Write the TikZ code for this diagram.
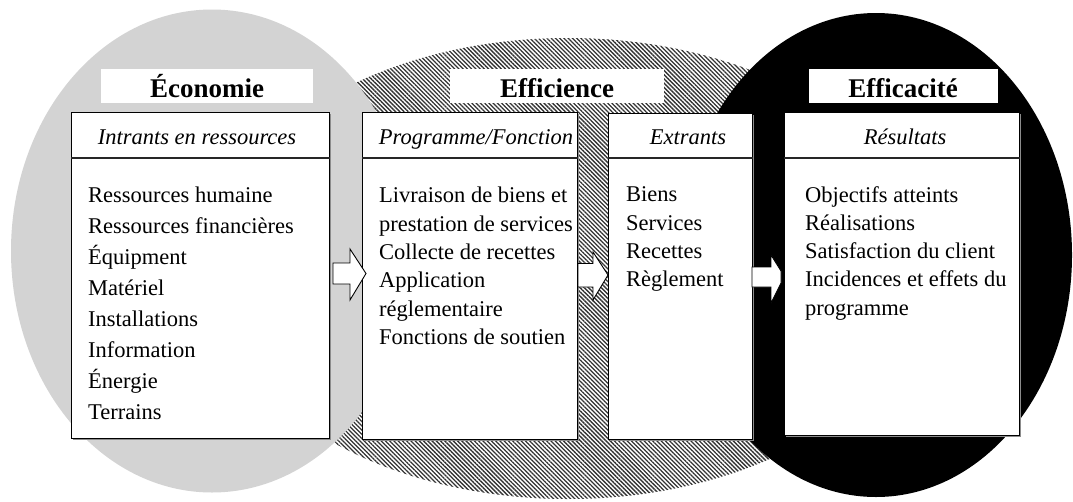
\documentclass[tikz,border=0pt]{standalone}
\usepackage{fontspec}
\setmainfont{Liberation Serif}
\usetikzlibrary{patterns.meta}
\definecolor{ellgray}{RGB}{211,211,211}
\tikzset{
  databox/.style={draw=black, line width=1.2pt, fill=white, anchor=north west, inner sep=0pt},
  boxshadow/.style={fill=black!45},
  headrule/.style={draw=black!85, line width=1.3pt},
  titlebox/.style={fill=white, inner sep=0pt, anchor=base, text height=28pt, text depth=6pt,
                   font=\fontsize{27}{32}\selectfont\bfseries},
  blockarrow/.style={draw=black, line width=0.9pt, fill=white, line join=miter},
  headtxt/.style={anchor=base, inner sep=0pt, font=\fontsize{22.5}{27}\selectfont\itshape},
  bodywide/.style={anchor=north west, inner sep=0pt, align=left, font=\fontsize{22.5}{31}\selectfont},
  bodytxt/.style={anchor=north west, inner sep=0pt, align=left, font=\fontsize{22.5}{28.3}\selectfont},
  hatchfill/.style={pattern={Lines[angle=-45,distance=3pt,line width=1.3pt]}, pattern color=black!80}
}
\begin{document}
\begin{tikzpicture}[x=1pt,y=-1pt]
\useasboundingbox (0,0) rectangle (1073,501);
% ellipses
\fill[white] (568,268.5) ellipse [x radius=358, y radius=230.5];
\fill[hatchfill] (568,268.5) ellipse [x radius=358, y radius=230.5];
\fill[ellgray] (212,251) ellipse [x radius=201, y radius=241.5];
\fill[black] (876,255) ellipse [x radius=196, y radius=242];
% shadows
\fill[boxshadow] (73,114) rectangle (331,440);
\fill[boxshadow] (364,114) rectangle (579,441);
\fill[boxshadow] (610,115) rectangle (754,441);
\fill[boxshadow] (786,114) rectangle (1021,437);
% boxes
\node[databox, minimum width=258pt, minimum height=326pt] (b1) at (71,112) {};
\node[databox, minimum width=215pt, minimum height=327pt] (b2) at (362,112) {};
\node[databox, minimum width=144pt, minimum height=326pt] (b3) at (608,113) {};
\node[databox, minimum width=235pt, minimum height=323pt] (b4) at (784,112) {};
\draw[headrule] (b1.north west |- 0,158) -- (b1.north east |- 0,158);
\draw[headrule] (b2.north west |- 0,158) -- (b2.north east |- 0,158);
\draw[headrule] (b3.north west |- 0,158) -- (b3.north east |- 0,158);
\draw[headrule] (b4.north west |- 0,158) -- (b4.north east |- 0,158);
% block arrows
\draw[blockarrow] (333,263) -- (350,263) -- (350,249) -- (366,273.5) -- (350,300) -- (350,284) -- (333,284) -- cycle;
\draw[blockarrow] (578,263.5) -- (593,263.5) -- (593,252) -- (608,275) -- (593,300) -- (593,287) -- (578,287) -- cycle;
\draw[blockarrow] (752,267) -- (771,267) -- (771,255) -- (781,271) -- (781,283) -- (771,303) -- (771,287) -- (752,287) -- cycle;
% titles
\node[titlebox, minimum width=212pt] (t1) at (207,97) {Économie};
\node[titlebox, minimum width=214pt] (t2) at (557,97) {Efficience};
\node[titlebox, minimum width=189pt] (t3) at (903,97) {Efficacité};
% headers
\node[headtxt] (h1) at (197,144) {Intrants en ressources};
\node[headtxt] (h2) at (476,144) {Programme/Fonction};
\node[headtxt] (h3) at (688,144) {Extrants};
\node[headtxt] (h4) at (905,144) {Résultats};
% bodies
\node[bodywide] (x1) at (88,180.3) {\strut Ressources humaine\\Ressources financières\\Équipment\\Matériel\\Installations\\Information\\Énergie\\Terrains};
\node[bodytxt] (x2) at (379,182.9) {\strut Livraison de biens et\\prestation de services\\Collecte de recettes\\Application\\réglementaire\\Fonctions de soutien};
\node[bodytxt] (x3) at (626,181.9) {\strut Biens\\Services\\Recettes\\Règlement};
\node[bodytxt] (x4) at (805,182) {\strut Objectifs atteints\\Réalisations\\Satisfaction du client\\Incidences et effets du\\programme};
\end{tikzpicture}
\end{document}
